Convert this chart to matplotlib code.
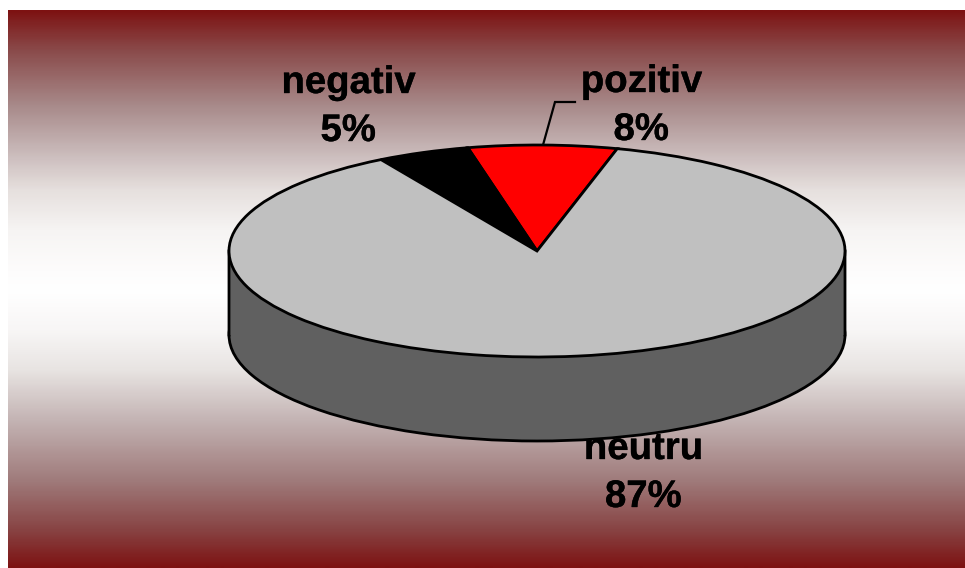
import numpy as np
import matplotlib
matplotlib.use("Agg")
import matplotlib.pyplot as plt
import matplotlib.patheffects as pe
from matplotlib.colors import LinearSegmentedColormap
from matplotlib.patches import Rectangle

plt.rcParams["text.hinting"] = "no_hinting"
plt.rcParams["text.hinting_factor"] = 1

labels = ["pozitiv", "negativ", "neutru"]
values = [7.8, 4.85, 87.35]
percent_labels = ["8%", "5%", "87%"]
colors = ["#ff0000", "#000000", "#c0c0c0"]
side_color = "#606060"

W, H = 965, 568
CX, CY, RX, RY, DEPTH = 537, 251, 308, 106, 84
START = 74.9

fig = plt.figure(figsize=(W / 100, H / 100), dpi=100, facecolor="white")

# Background axes in pixel coordinates
bg = fig.add_axes([0, 0, 1, 1], zorder=0)
bg.axis("off")
TOP, BOTTOM = 10, 568
stops = [(10, "#7d1212"), (50, "#8a4b4b"), (105, "#a88a8a"), (150, "#c8b8b8"),
         (190, "#e6e0de"), (230, "#f6f4f3"), (270, "#fdfcfc"), (290, "#ffffff"),
         (330, "#f8f6f6"), (370, "#e8e4e2"), (420, "#c4b4b4"), (480, "#a07c7c"),
         (530, "#884444"), (568, "#7d1212")]
cmap = LinearSegmentedColormap.from_list(
    "g", [((y - TOP) / (BOTTOM - TOP), c) for y, c in stops], N=512)
grad = np.linspace(0, 1, BOTTOM - TOP).reshape(-1, 1)
bg.imshow(grad, cmap=cmap, extent=(8, 965, BOTTOM, TOP), aspect="auto", interpolation="bilinear")
bg.set_xlim(0, W)
bg.set_ylim(H, 0)

text_pos = {"pozitiv": (641, 92, 140), "negativ": (348, 93, 141), "neutru": (643, 459, 507)}
for name, pct in zip(labels, percent_labels):
    x, y1, y2 = text_pos[name]
    for s, y in ((name, y1), (pct, y2)):
        bg.text(x, y, s, ha="center", va="baseline", fontsize=27.6, fontweight="bold",
                family="Liberation Sans", color="black",
                path_effects=[pe.withStroke(linewidth=0.25, foreground="black")])
bg.plot([543, 555, 575], [145, 102, 102], color="black", lw=1.6, solid_joinstyle="miter")

# Pie axes: one data unit equals one radius horizontally and vertically
ax = fig.add_axes([0, 0, 1, 1], zorder=1)
ax.patch.set_visible(False)
xlim = ((0 - CX) / RX, (W - CX) / RX)
ylim = ((CY - H) / RY, CY / RY)
dep = DEPTH / RY
edge = dict(edgecolor="black", linewidth=2.0)

ax.pie([1], colors=[side_color], center=(0, -dep), radius=1, startangle=90,
       wedgeprops=edge, normalize=True)
ax.add_patch(Rectangle((-1, -dep), 2, dep, facecolor=side_color, edgecolor="none",
                       zorder=1.5, snap=False))
ax.plot([-1, -1], [0, -dep], color="black", lw=2.0, zorder=1.6, snap=False)
ax.plot([1, 1], [0, -dep], color="black", lw=2.0, zorder=1.6, snap=False)
for w in ax.pie(values, colors=colors, startangle=START, counterclock=True, radius=1,
                wedgeprops=edge, normalize=True)[0]:
    w.set_zorder(2)
ax.set_aspect("auto")
ax.set_xlim(*xlim)
ax.set_ylim(*ylim)
ax.axis("off")

fig.savefig("out.png", dpi=100)
